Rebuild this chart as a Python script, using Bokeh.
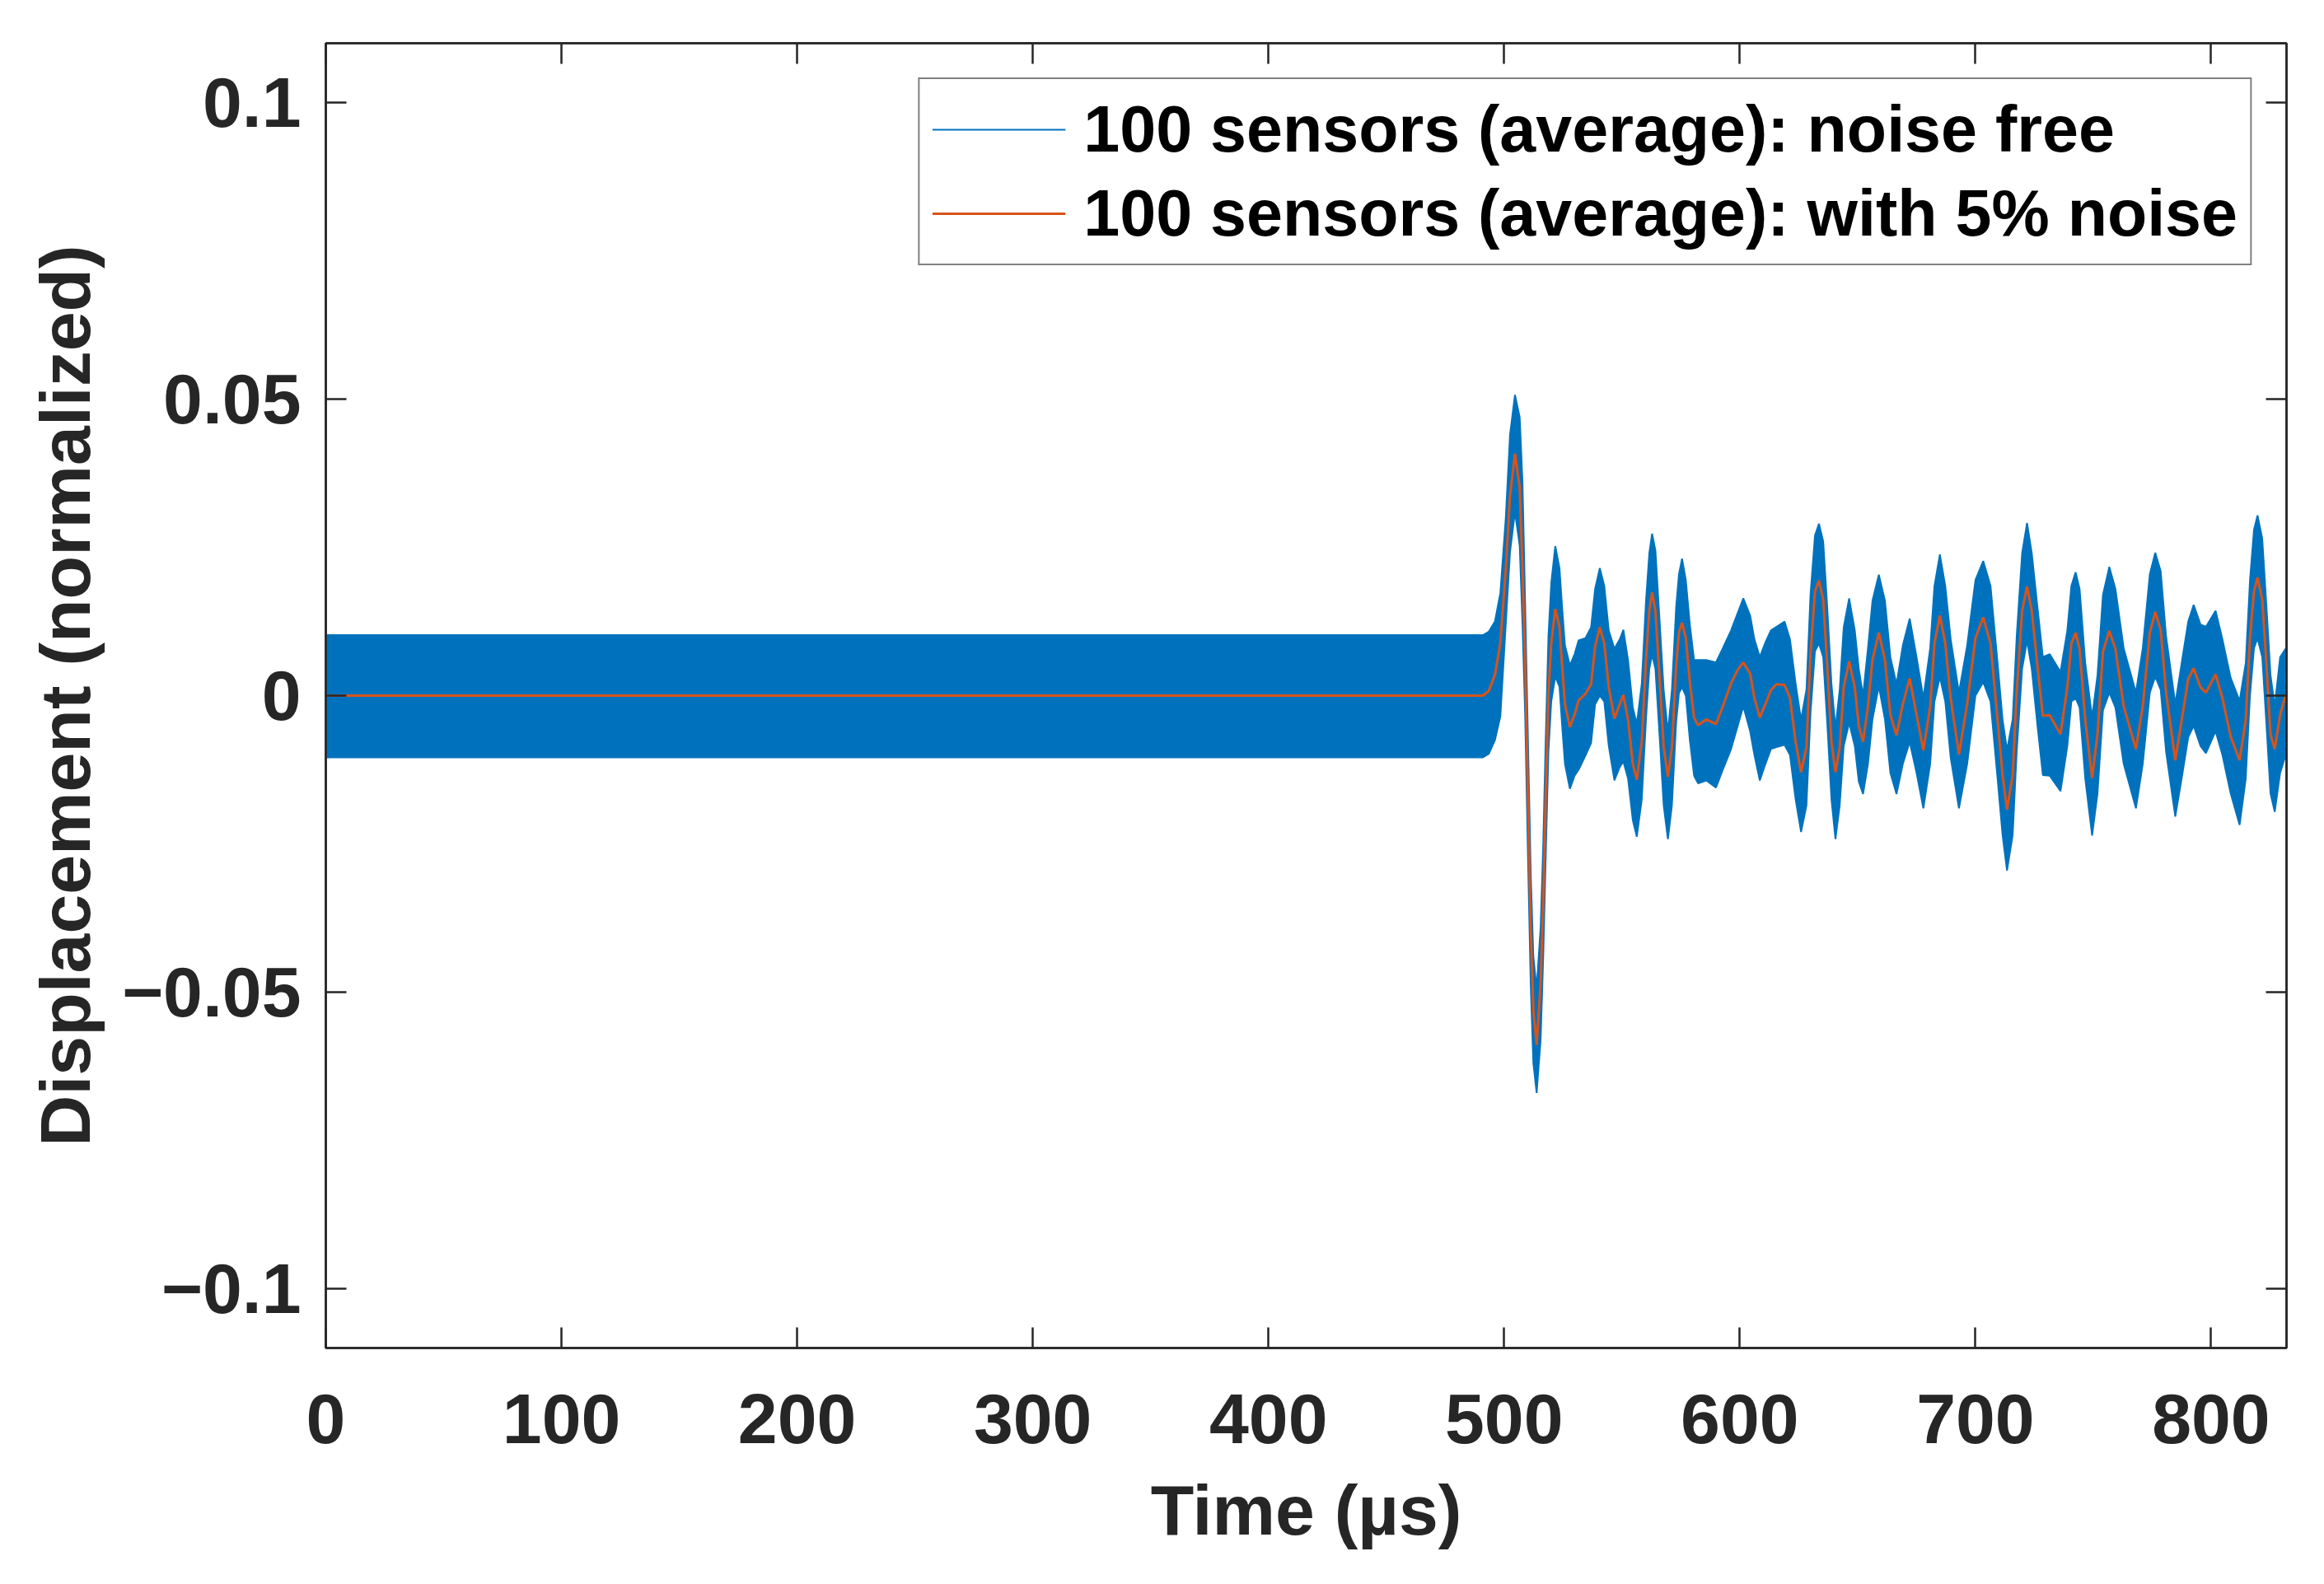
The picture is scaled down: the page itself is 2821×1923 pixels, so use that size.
from bokeh.plotting import figure
from bokeh.models import (Range1d, LinearAxis, FixedTicker, Legend, LegendItem,
                          CustomJSTickFormatter, ColumnDataSource)
from bokeh.embed import file_html
from bokeh.resources import INLINE

# ---------------- data ----------------
time_us = [0, 491, 493.5, 496.1, 498.4, 500.7, 502.5, 504.6, 506.6, 507.8,
           508.9, 510.1, 511.3, 512.4, 513.8, 515.5, 516.6, 517.6, 518.8, 520.0,
           521.7, 523.5, 524.6, 525.8, 527.9, 529.9, 531.6, 534.5, 536.9, 538.6,
           540.6, 542.5, 544.4, 546.8, 549.1, 550.6, 552.6, 554.6, 556.3, 558.4,
           560.2, 561.6, 562.8, 564.2, 566.0, 567.7, 569.5, 571.2, 573.0, 574.2,
           575.5, 577.1, 578.8, 580.6, 582.3, 585.8, 589.9, 592.8, 596.3, 599.2,
           601.5, 604.4, 606.2, 608.5, 610.9, 613.2, 615.5, 619.0, 621.3, 623.7,
           626.0, 628.3, 630.0, 631.9, 633.6, 635.4, 637.1, 638.9, 640.6, 642.4,
           644.1, 646.4, 648.8, 650.5, 652.3, 654.4, 656.3, 659.0, 661.6, 663.9,
           666.5, 669.2, 672.1, 675.0, 677.9, 680.8, 682.6, 684.9, 687.2, 689.5,
           693.0, 696.5, 700.0, 703.3, 706.4, 709.4, 711.5, 713.4, 715.8, 717.5,
           719.8, 721.9, 723.9, 726.3, 728.6, 731.5, 736.1, 739.0, 740.7, 742.5,
           744.2, 746.6, 749.5, 751.8, 754.1, 756.8, 759.4, 762.9, 768.1, 771.0,
           774.0, 776.3, 778.6, 780.9, 784.8, 787.9, 790.3, 792.6, 795.5, 797.8,
           801.9, 804.8, 808.3, 812.1, 814.7, 816.5, 818.2, 819.7, 821.7, 823.5,
           825.2, 827.0, 829.3, 831.6, 832.0]

# 100 sensors (average): with 5% noise  (orange line)
noisy_avg = [0.0, 0.0, 0.0008, 0.0035, 0.0089, 0.0213, 0.0337, 0.0408, 0.0351, 0.0213,
             0.0064, -0.0170, -0.0393, -0.0531, -0.0589, -0.0485, -0.0346, -0.0180, 0.0005, 0.0088,
             0.0146, 0.0116, 0.0051, -0.0014, -0.0053, -0.0032, -0.0008, 0.0003, 0.0019, 0.0083,
             0.0115, 0.0088, 0.0014, -0.0039, -0.0014, 0.0001, -0.0041, -0.0115, -0.0142, -0.0078,
             0.0060, 0.0143, 0.0174, 0.0143, 0.0028, -0.0087, -0.0137, -0.0087, 0.0051, 0.0107,
             0.0123, 0.0097, 0.0023, -0.0037, -0.0050, -0.0040, -0.0048, -0.0018, 0.0021, 0.0044,
             0.0056, 0.0037, -0.0004, -0.0037, -0.0014, 0.0009, 0.0019, 0.0018, -0.0004, -0.0078,
             -0.0129, -0.0087, 0.0070, 0.0176, 0.0194, 0.0162, 0.0051, -0.0078, -0.0129, -0.0087,
             0.0014, 0.0058, 0.0014, -0.0051, -0.0078, -0.0018, 0.0060, 0.0106, 0.0060, -0.0032,
             -0.0067, -0.0014, 0.0029, -0.0032, -0.0092, -0.0018, 0.0088, 0.0135, 0.0088, -0.0005,
             -0.0099, -0.0014, 0.0097, 0.0132, 0.0088, -0.0041, -0.0134, -0.0192, -0.0134, 0.0005,
             0.0143, 0.0184, 0.0143, 0.0051, -0.0034, -0.0033, -0.0065, 0.0014, 0.0088, 0.0106,
             0.0079, -0.0041, -0.0139, -0.0065, 0.0074, 0.0109, 0.0079, -0.0018, -0.0090, -0.0018,
             0.0106, 0.0141, 0.0111, 0.0005, -0.0109, -0.0032, 0.0028, 0.0046, 0.0014, 0.0005,
             0.0036, -0.0004, -0.0069, -0.0109, -0.0041, 0.0097, 0.0176, 0.0199, 0.0162, 0.0051,
             -0.0065, -0.0090, -0.0032, 0.0001, 0.0]

# 100 sensors (average): noise free  (blue trace, drawn as its upper / lower envelope)
free_upper = [0.0102, 0.0102, 0.0108, 0.0125, 0.0173, 0.0300, 0.0440, 0.0507, 0.0470, 0.0360,
              0.0160, -0.0070, -0.0300, -0.0440, -0.0494, -0.0390, -0.0250, -0.0080, 0.0100, 0.0190,
              0.0252, 0.0215, 0.0150, 0.0085, 0.0051, 0.0070, 0.0093, 0.0097, 0.0115, 0.0180,
              0.0215, 0.0185, 0.0110, 0.0079, 0.0095, 0.0111, 0.0060, -0.0020, -0.0048, 0.0020,
              0.0160, 0.0240, 0.0273, 0.0245, 0.0125, 0.0010, -0.0062, 0.0010, 0.0150, 0.0205,
              0.0231, 0.0195, 0.0120, 0.0060, 0.0060, 0.0060, 0.0056, 0.0080, 0.0110, 0.0140,
              0.0164, 0.0135, 0.0095, 0.0065, 0.0090, 0.0110, 0.0116, 0.0125, 0.0095, 0.0020,
              -0.0041, 0.0010, 0.0170, 0.0270, 0.0290, 0.0260, 0.0150, 0.0020, -0.0055, 0.0010,
              0.0115, 0.0164, 0.0110, 0.0045, 0.0000, 0.0080, 0.0160, 0.0204, 0.0160, 0.0065,
              0.0019, 0.0085, 0.0130, 0.0065, -0.0004, 0.0080, 0.0185, 0.0238, 0.0185, 0.0095,
              0.0005, 0.0085, 0.0195, 0.0227, 0.0185, 0.0055, -0.0040, -0.0092, -0.0040, 0.0100,
              0.0240, 0.0291, 0.0240, 0.0150, 0.0065, 0.0070, 0.0040, 0.0110, 0.0185, 0.0208,
              0.0180, 0.0055, -0.0037, 0.0035, 0.0170, 0.0217, 0.0180, 0.0080, 0.0005, 0.0080,
              0.0205, 0.0241, 0.0210, 0.0100, -0.0014, 0.0065, 0.0125, 0.0153, 0.0120, 0.0116,
              0.0143, 0.0095, 0.0030, -0.0009, 0.0055, 0.0195, 0.0280, 0.0304, 0.0265, 0.0150,
              0.0035, -0.0018, 0.0065, 0.0079, 0.0080]

free_lower = [-0.0104, -0.0104, -0.0098, -0.0075, -0.0035, 0.0120, 0.0242, 0.0310, 0.0253, 0.0120,
              -0.0030, -0.0270, -0.0490, -0.0620, -0.0670, -0.0580, -0.0440, -0.0280, -0.0095, -0.0010,
              0.0032, 0.0015, -0.0050, -0.0115, -0.0157, -0.0135, -0.0125, -0.0101, -0.0080, -0.0015,
              0.0000, -0.0010, -0.0085, -0.0143, -0.0120, -0.0111, -0.0140, -0.0210, -0.0238, -0.0175,
              -0.0040, 0.0045, 0.0069, 0.0045, -0.0070, -0.0185, -0.0242, -0.0185, -0.0045, 0.0005,
              0.0014, 0.0000, -0.0075, -0.0135, -0.0148, -0.0143, -0.0155, -0.0125, -0.0090, -0.0050,
              -0.0018, -0.0060, -0.0100, -0.0143, -0.0115, -0.0090, -0.0087, -0.0083, -0.0100, -0.0175,
              -0.0230, -0.0185, -0.0030, 0.0075, 0.0088, 0.0065, -0.0045, -0.0175, -0.0242, -0.0185,
              -0.0085, -0.0046, -0.0085, -0.0145, -0.0166, -0.0115, -0.0040, 0.0016, -0.0040, -0.0130,
              -0.0166, -0.0115, -0.0078, -0.0130, -0.0190, -0.0115, -0.0010, 0.0032, -0.0010, -0.0105,
              -0.0190, -0.0115, 0.0000, 0.0023, -0.0010, -0.0140, -0.0235, -0.0295, -0.0235, -0.0095,
              0.0045, 0.0093, 0.0045, -0.0050, -0.0134, -0.0135, -0.0161, -0.0085, -0.0010, -0.0004,
              -0.0020, -0.0140, -0.0236, -0.0165, -0.0025, 0.0005, -0.0020, -0.0115, -0.0190, -0.0115,
              0.0005, 0.0032, 0.0010, -0.0095, -0.0204, -0.0130, -0.0070, -0.0051, -0.0085, -0.0097,
              -0.0060, -0.0100, -0.0165, -0.0218, -0.0140, 0.0000, 0.0080, 0.0097, 0.0065, -0.0050,
              -0.0165, -0.0196, -0.0130, -0.0101, -0.0102]

x_ticks = [0, 100, 200, 300, 400, 500, 600, 700, 800]
y_ticks = [-0.1, -0.05, 0, 0.05, 0.1]
y_tick_labels = ["\u22120.1", "\u22120.05", "0", "0.05", "0.1"]

label_free = "100 sensors (average): noise free"
label_noisy = "100 sensors (average): with 5% noise"

# ---------------- styling ----------------
BLUE = "#0072BD"
ORANGE = "#D95319"
AXC = "#262626"
FONT = "Liberation Sans"

src = ColumnDataSource(dict(t=time_us, o=noisy_avg, hi=free_upper, lo=free_lower))

p = figure(width=2800, height=1900, output_backend="svg", toolbar_location=None,
           x_range=Range1d(0, 832), y_range=Range1d(-0.11, 0.11),
           min_border_left=395, min_border_right=25, min_border_top=52, min_border_bottom=264,
           background_fill_color="white", border_fill_color="white")
p.grid.visible = False
p.outline_line_color = AXC
p.outline_line_width = 2.5

# blue trace (noise free) as a band between its envelopes
p.varea(x="t", y1="lo", y2="hi", source=src, fill_color=BLUE, fill_alpha=1.0)
r_free = p.line(x="t", y="hi", source=src, line_color=BLUE, line_width=2)
p.line(x="t", y="lo", source=src, line_color=BLUE, line_width=2)
r_noisy = p.line(x="t", y="o", source=src, line_color=ORANGE, line_width=3)


def style_axis(ax, show_labels):
    ax.axis_line_color = AXC
    ax.axis_line_width = 2.5
    ax.major_tick_line_color = AXC
    ax.major_tick_line_width = 2.5
    ax.major_tick_in = 25
    ax.major_tick_out = 0
    ax.minor_tick_line_color = None
    ax.major_label_text_font = FONT
    ax.major_label_text_font_style = "bold"
    ax.major_label_text_font_size = "86px"
    ax.major_label_text_color = AXC
    ax.axis_label_text_font = FONT
    ax.axis_label_text_font_style = "bold"
    ax.axis_label_text_font_size = "86px"
    ax.axis_label_text_color = AXC
    if not show_labels:
        ax.formatter = CustomJSTickFormatter(code="return '';")
        ax.major_label_standoff = 0


xa = p.xaxis[0]
ya = p.yaxis[0]
xa.ticker = FixedTicker(ticks=x_ticks)
ya.ticker = FixedTicker(ticks=y_ticks)
ya.major_label_overrides = {float(k): v for k, v in zip(y_ticks, y_tick_labels)}
style_axis(xa, True)
style_axis(ya, True)
xa.axis_label = "Time (\u00b5s)"
ya.axis_label = "Displacement (normalized)"
xa.major_label_standoff = 56
ya.major_label_standoff = 30
xa.axis_label_standoff = 30
ya.axis_label_standoff = 18

ra = LinearAxis(ticker=FixedTicker(ticks=y_ticks))
ta = LinearAxis(ticker=FixedTicker(ticks=x_ticks))
style_axis(ra, False)
style_axis(ta, False)
p.add_layout(ra, "right")
p.add_layout(ta, "above")

legend = Legend(items=[LegendItem(label=label_free, renderers=[r_free]),
                       LegendItem(label=label_noisy, renderers=[r_noisy])],
                location="top_right")
legend.margin = 42
legend.padding = 15
legend.spacing = 10
legend.glyph_width = 162
legend.glyph_height = 40
legend.label_standoff = 22
legend.label_text_font = FONT
legend.label_text_font_style = "bold"
legend.label_text_font_size = "79px"
legend.label_text_color = "#000000"
legend.border_line_color = "#000000"
legend.border_line_width = 2.5
legend.background_fill_color = "white"
legend.background_fill_alpha = 1.0
p.add_layout(legend, "center")

open("out.html", "w").write(file_html(p, INLINE))
